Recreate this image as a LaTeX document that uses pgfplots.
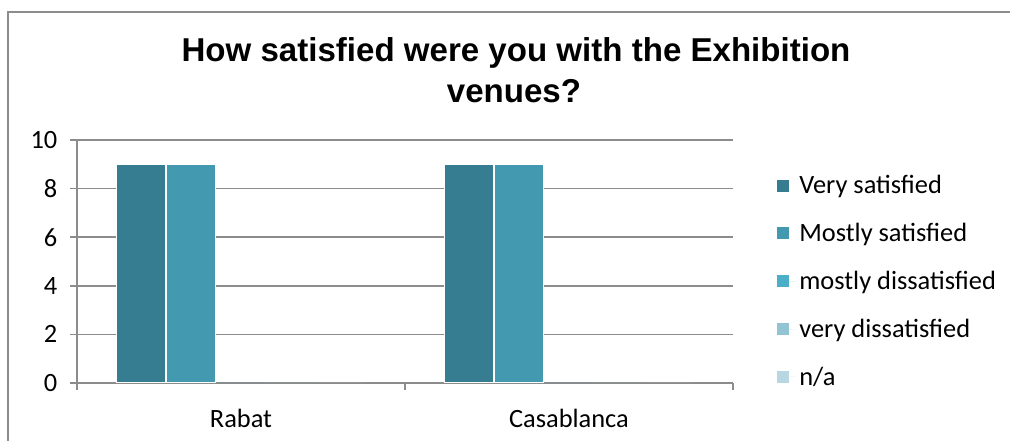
\documentclass[border=0pt]{standalone}
\usepackage{pgfplots}
\pgfplotsset{compat=1.18}
\usepackage{fontspec}
\setmainfont{Carlito}
\newfontfamily\titlefont{Liberation Sans}
\definecolor{c1}{HTML}{377D91}
\definecolor{c2}{HTML}{4399B0}
\definecolor{c3}{HTML}{4BAFC8}
\definecolor{c4}{HTML}{93C4D3}
\definecolor{c5}{HTML}{B9D7E3}
\definecolor{gridc}{HTML}{8C8C8C}
\begin{document}
\begin{tikzpicture}[x=0.75pt,y=0.75pt]
\useasboundingbox (0,0) rectangle (1010,441);
\draw[gridc, line width=1.1pt] (8,-30) rectangle (1040,429);
\node[font=\titlefont\bfseries\fontsize{24.8}{29}\selectfont, anchor=base] at (516,379) {How satisfied were you with the Exhibition};
\node[font=\titlefont\bfseries\fontsize{24.8}{29}\selectfont, anchor=base] at (514,338) {venues?};
\begin{axis}[
  at={(57.75pt,43.5pt)}, anchor=south west,
  width=492pt, height=182.25pt, scale only axis,
  xmin=0, xmax=2, ymin=0, ymax=10,
  ybar=0pt, bar width=36.75pt,
  axis x line*=bottom, axis y line*=left,
  axis line style={gridc, line width=1.1pt},
  xtick={0.5,1.5}, xticklabels={Rabat,Casablanca},
  minor xtick={0,1,2},
  ytick={0,2,4,6,8,10},
  major tick length=5.25pt,
  x tick style={draw=none},
  minor x tick style={draw=gridc, line width=1.1pt},
  minor tick length=5.25pt,
  y tick style={gridc, line width=1.1pt},
  tick align=outside,
  ymajorgrids, grid style={gridc, line width=1.1pt},
  /pgf/number format/assume math mode=true,
  ticklabel style={font=\fontsize{19.8}{22}\selectfont},
  yticklabel style={xshift=-6pt},
  xticklabel style={yshift=-11pt},
  legend style={at={(1.06,0.877)}, anchor=north west, draw=none, fill=none,
    font=\fontsize{19.8}{22}\selectfont, row sep=16.6pt,
    legend cell align=left},
  legend image code/.code={\path (0pt,0pt) -- (14.25pt,0pt); \fill[#1, draw=none] (0pt,-4.5pt) rectangle (9pt,4.5pt);},
]
\addplot[fill=c1, draw=white, line width=0.8pt, bar shift=-75pt] coordinates {(0.5,9) (1.5,9)};
\addplot[fill=c2, draw=white, line width=0.8pt, bar shift=-37.5pt] coordinates {(0.5,9) (1.5,9)};
\addplot[fill=c3, draw=none] coordinates {(0.5,0) (1.5,0)};
\addplot[fill=c4, draw=none] coordinates {(0.5,0) (1.5,0)};
\addplot[fill=c5, draw=none] coordinates {(0.5,0) (1.5,0)};
\legend{Very satisfied, Mostly satisfied, mostly dissatisfied, very dissatisfied, n/a}
\end{axis}
\end{tikzpicture}
\end{document}
